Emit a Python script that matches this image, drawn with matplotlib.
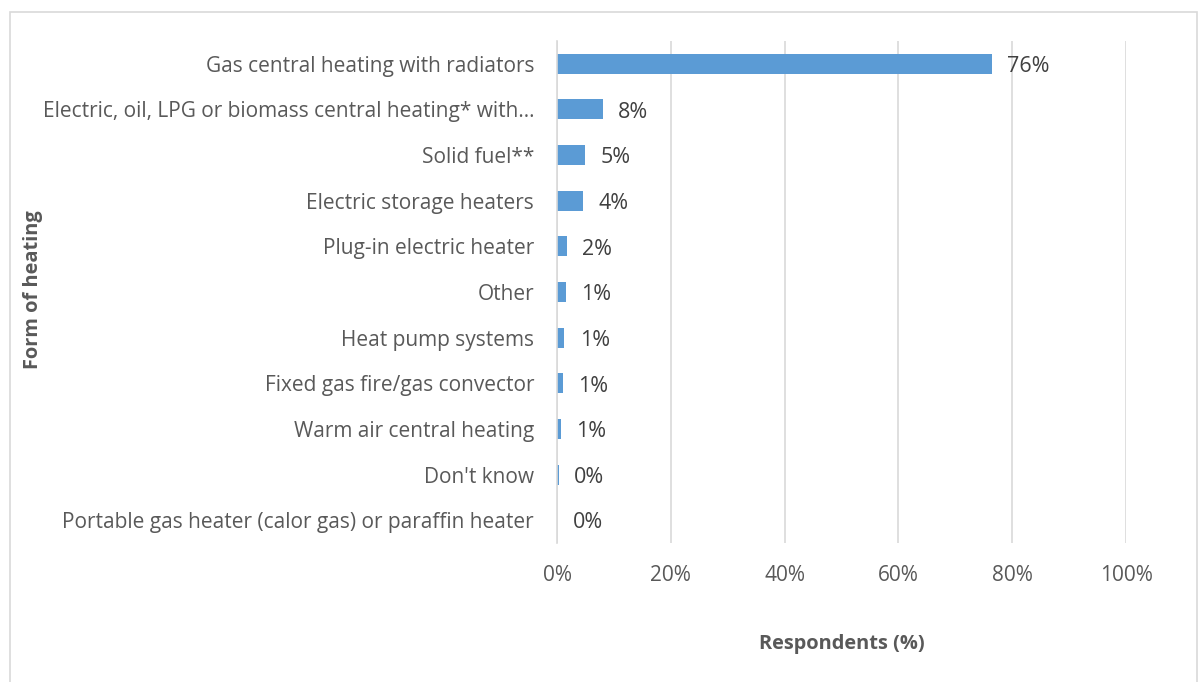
import matplotlib
matplotlib.use("Agg")
import matplotlib.pyplot as plt
from matplotlib.patches import Rectangle

categories = [
    "Gas central heating with radiators",
    "Electric, oil, LPG or biomass central heating* with…",
    "Solid fuel**",
    "Electric storage heaters",
    "Plug-in electric heater",
    "Other",
    "Heat pump systems",
    "Fixed gas fire/gas convector",
    "Warm air central heating",
    "Don't know",
    "Portable gas heater (calor gas) or paraffin heater",
]
values = [76.4, 8.0, 4.9, 4.6, 1.7, 1.5, 1.3, 1.1, 0.7, 0.3, 0.05]
value_labels = ["76%", "8%", "5%", "4%", "2%", "1%", "1%", "1%", "1%", "0%", "0%"]
xticks = [0, 20, 40, 60, 80, 100]
xtick_labels = ["0%", "20%", "40%", "60%", "80%", "100%"]

plt.rcParams["font.family"] = ["Open Sans", "DejaVu Sans"]
text_color = "#595959"
grid_color = "#d9d9d9"
bar_color = "#5b9bd5"

fig = plt.figure(figsize=(12, 6.82), dpi=100)
fig.patches.append(Rectangle((10 / 1200, 0 - 0.01), 1187 / 1200, 1 - 12 / 682 + 0.01,
                             transform=fig.transFigure, fill=False,
                             edgecolor=grid_color, linewidth=1.2))

ax = fig.add_axes([557 / 1200, 1 - 543 / 682, (1126 - 557) / 1200, (543 - 41) / 682])
n = len(categories)
ypos = list(range(n))
ax.barh(ypos, values, height=0.44, color=bar_color, zorder=3)
ax.set_ylim(n - 0.5, -0.5)
ax.set_xlim(0, 100)

ax.set_yticks(ypos)
ax.set_yticklabels(categories, fontsize=15, color=text_color)
ax.set_xticks(xticks)
ax.set_xticklabels(xtick_labels, fontsize=15, color=text_color)
ax.tick_params(axis="both", length=0)
ax.tick_params(axis="y", pad=16.5)
ax.tick_params(axis="x", pad=16)

ax.grid(axis="x", color=grid_color, linewidth=1.2, zorder=0)
for side in ["top", "right", "bottom"]:
    ax.spines[side].set_visible(False)
ax.spines["left"].set_color(grid_color)
ax.spines["left"].set_linewidth(1.2)
ax.spines["left"].set_zorder(4)

for y, v, lab in zip(ypos, values, value_labels):
    ax.annotate(lab, (v, y), xytext=(11, -2), textcoords="offset points",
                va="center", ha="left", fontsize=15.5, color="#404040")

fig.text(842 / 1200, 1 - 644 / 682, "Respondents (%)", ha="center", va="center",
         fontsize=14.4, fontweight="bold", color=text_color)
fig.text(33 / 1200, 1 - 290 / 682, "Form of heating", ha="center", va="center",
         rotation=90, fontsize=14.4, fontweight="bold", color=text_color)

fig.savefig("out.png", dpi=100)
